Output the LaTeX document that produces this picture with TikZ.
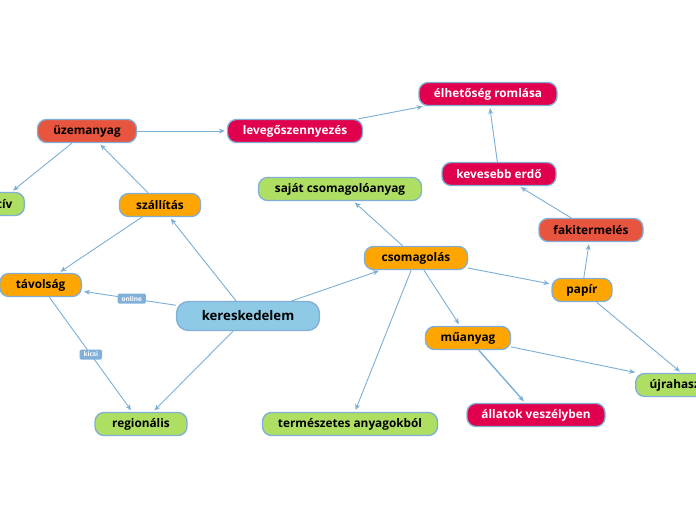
\documentclass[tikz,border=0pt]{standalone}
\usepackage{fontspec}
\setmainfont{Open Sans}
\usetikzlibrary{arrows.meta}
\definecolor{cOrange}{HTML}{FFA500}
\definecolor{cRed}{HTML}{E8553E}
\definecolor{cCrimson}{HTML}{E0004D}
\definecolor{cGreen}{HTML}{AEDF62}
\definecolor{cBlue}{HTML}{8ECAE6}
\definecolor{cBorder}{HTML}{7FAED6}
\definecolor{cLine}{HTML}{7BAFD6}
\definecolor{cLab}{HTML}{80B0DA}
\newcommand{\gap}[1]{\rule{#1}{0pt}}
\tikzset{
  box/.style={draw=cBorder, line width=1.3pt, rounded corners=9pt, minimum height=23pt,
    inner sep=0pt, font=\fontsize{11.8}{13}\selectfont\bfseries, text=black},
  orangebox/.style={box, fill=cOrange},
  redbox/.style={box, fill=cRed},
  crimbox/.style={box, fill=cCrimson, text=white},
  greenbox/.style={box, fill=cGreen},
  bluebox/.style={box, fill=cBlue, minimum height=29pt, rounded corners=12pt, font=\fontsize{13.2}{15}\selectfont\bfseries},
  conn/.style={draw=cLine, line width=0.9pt, -{Stealth[length=6pt,width=5pt]}, shorten >=2pt},
  elab/.style={fill=cLab, text=white, rounded corners=1.5pt, inner xsep=4pt, inner ysep=2.5pt, font=\fontsize{6.5}{7}\selectfont\bfseries}
}
\begin{document}
\begin{tikzpicture}[x=1pt,y=-1pt]
\useasboundingbox (0,0) rectangle (696,520);
\clip (0,0) rectangle (696,520);
\fill[white] (0,0) rectangle (696,520);
% nodes
\node[redbox, minimum width=99pt] (uzem) at (87,131) {üzemanyag};
\node[crimbox, minimum width=135pt] (leveg) at (295,131) {levegőszennyezés};
\node[crimbox, minimum width=138pt] (elhet) at (488,94) {élhetőség romlása};
\node[greenbox, anchor=east] (aktiv) at (25,204) {\gap{14pt}aktív\gap{12pt}};
\node[orangebox, minimum width=81pt] (szall) at (160,205) {szállítás};
\node[greenbox, minimum width=163pt] (sajat) at (340,189) {saját csomagolóanyag};
\node[crimbox, minimum width=114pt] (keves) at (499,174) {kevesebb erdő};
\node[redbox, minimum width=104pt] (fakit) at (591,230) {fakitermelés};
\node[orangebox, anchor=east] (tavol) at (82,285) {\gap{16pt}távolság\gap{16pt}};
\node[orangebox, minimum width=103pt] (csomag) at (416,258) {csomagolás};
\node[orangebox, minimum width=60pt] (papir) at (582,290) {papír};
\node[bluebox, minimum width=143pt] (keres) at (248,316) {kereskedelem};
\node[orangebox, minimum width=85pt] (muany) at (468,338) {műanyag};
\node[greenbox, anchor=west] (ujra) at (635,385) {\gap{14pt}újrahasznosítás\gap{14pt}};
\node[greenbox, minimum width=92pt] (regio) at (141,424) {regionális};
\node[greenbox, minimum width=175pt] (termesz) at (350,424) {természetes anyagokból};
\node[crimbox, minimum width=138pt] (allat) at (536,415) {állatok veszélyben};
% connectors
\draw[conn] (keres) -- node[elab, pos=0.47] {online} (tavol);
\draw[conn] (keres) -- (szall);
\draw[conn] (keres) -- (regio);
\draw[conn] (keres) -- (csomag);
\draw[conn] (szall) -- (uzem);
\draw[conn] (szall) -- (tavol);
\draw[conn] (uzem) -- (aktiv);
\draw[conn] (uzem) -- (leveg);
\draw[conn] (leveg) -- (elhet);
\draw[conn] (tavol) -- node[elab, pos=0.5] {kicsi} (regio);
\draw[conn] (csomag) -- (sajat);
\draw[conn] (csomag) -- (termesz);
\draw[conn] (csomag) -- (muany);
\draw[conn] (csomag) -- (papir);
\draw[conn] (papir) -- (fakit);
\draw[conn] (papir) -- (ujra);
\draw[conn] (fakit) -- (keves);
\draw[conn] (keves) -- (elhet);
\draw[conn, line width=1.4pt] (muany) -- (allat);
\draw[conn] (muany) -- (ujra);
\end{tikzpicture}
\end{document}
